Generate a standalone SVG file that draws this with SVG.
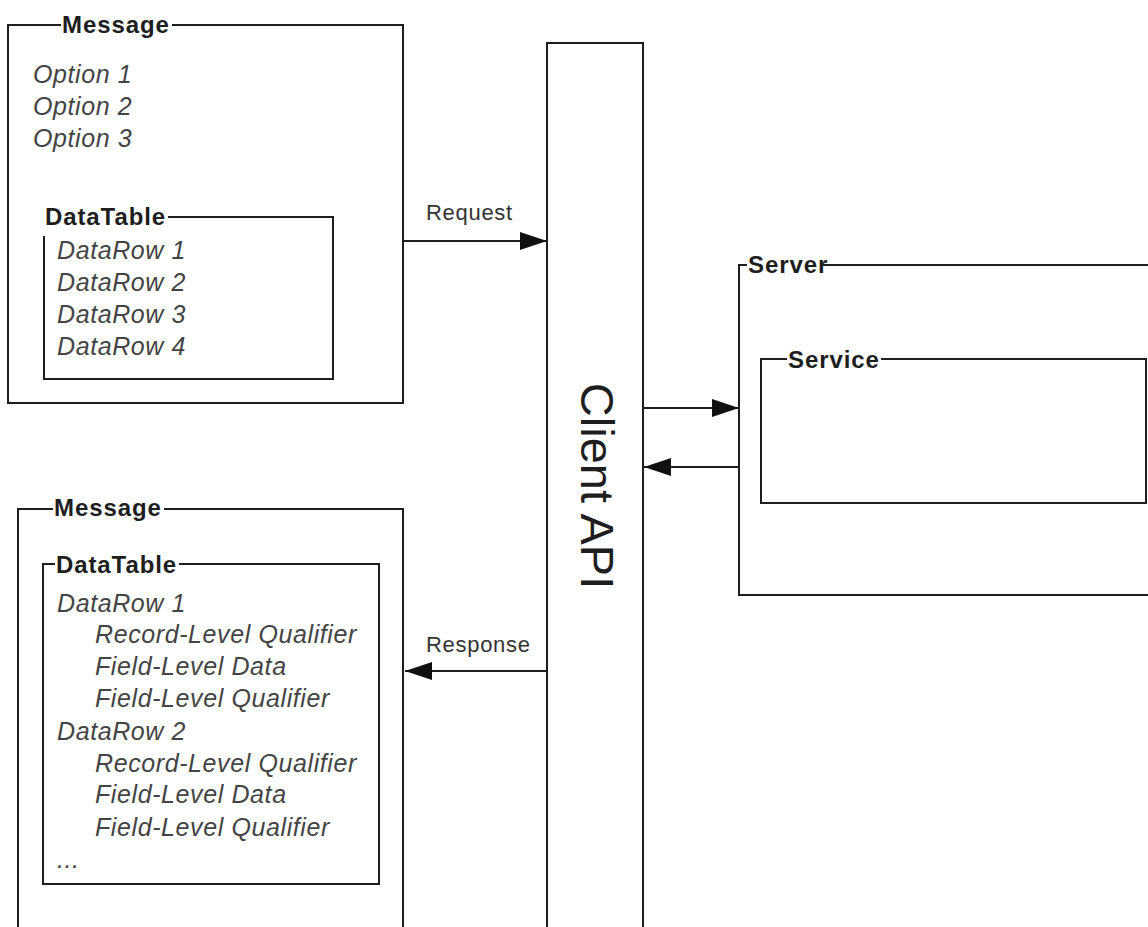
<svg xmlns="http://www.w3.org/2000/svg" width="1148" height="927" viewBox="0 0 1148 927">
<defs>
<style>
.frame{fill:none;stroke:#1e1e1e;stroke-width:2}
.conn{fill:none;stroke:#1e1e1e;stroke-width:2}
.title{font-family:"Liberation Sans",Arial,sans-serif;font-weight:bold;font-size:24px;letter-spacing:0.9px;fill:#1e1e1e}
.item{font-family:"Liberation Sans",Arial,sans-serif;font-style:italic;font-size:25px;letter-spacing:0.6px;fill:#444}
.label{font-family:"Liberation Sans",Arial,sans-serif;font-size:22px;letter-spacing:0.7px;fill:#333}
.big{font-family:"Liberation Sans",Arial,sans-serif;font-size:47px;fill:#1e1e1e}
</style>
<marker id="arr" markerUnits="userSpaceOnUse" markerWidth="27" markerHeight="18" refX="27" refY="9" orient="auto">
<path d="M0,0 L27,9 L0,18 z" fill="#111"/>
</marker>
</defs>
<rect width="1148" height="927" fill="#fff"/>

<g id="message-request">
<path class="frame" d="M61,25 H8 V403 H403 V25 H172"/>
<text class="title" x="62" y="33">Message</text>
<text class="item" x="33" y="83">Option 1</text>
<text class="item" x="33" y="115">Option 2</text>
<text class="item" x="33" y="147">Option 3</text>
</g>

<g id="datatable-request">
<path class="frame" d="M44,236 V379 H333 V217 H168"/>
<text class="title" x="45" y="225">DataTable</text>
<text class="item" x="57" y="259">DataRow 1</text>
<text class="item" x="57" y="291">DataRow 2</text>
<text class="item" x="57" y="323">DataRow 3</text>
<text class="item" x="57" y="355">DataRow 4</text>
</g>

<g id="client-api">
<path class="frame" d="M547,927 V43 H643 V927"/>
<text class="big" transform="translate(581,486) rotate(90)" text-anchor="middle">Client API</text>
</g>

<g id="server">
<path class="frame" d="M747,265 H739 V595 H1150"/>
<path class="frame" d="M822,265 H1150"/>
<text class="title" x="748" y="273">Server</text>
</g>

<g id="service">
<path class="frame" d="M787,359 H761 V503 H1146 V359 H881"/>
<text class="title" x="788" y="368">Service</text>
</g>

<g id="message-response">
<path class="frame" d="M53,509 H18 V927"/>
<path class="frame" d="M164,509 H403 V927"/>
<text class="title" x="54" y="516">Message</text>
</g>

<g id="datatable-response">
<path class="frame" d="M55,564 H43 V884 H379 V564 H179"/>
<text class="title" x="56" y="573">DataTable</text>
<text class="item" x="57" y="612">DataRow 1</text>
<text class="item" x="95" y="643">Record-Level Qualifier</text>
<text class="item" x="95" y="675">Field-Level Data</text>
<text class="item" x="95" y="707">Field-Level Qualifier</text>
<text class="item" x="57" y="740">DataRow 2</text>
<text class="item" x="95" y="772">Record-Level Qualifier</text>
<text class="item" x="95" y="803">Field-Level Data</text>
<text class="item" x="95" y="836">Field-Level Qualifier</text>
<text class="item" x="57" y="868">...</text>
</g>

<g id="connectors">
<line class="conn" x1="403" y1="241" x2="547" y2="241" marker-end="url(#arr)"/>
<text class="label" x="426" y="220">Request</text>
<line class="conn" x1="643" y1="408" x2="739" y2="408" marker-end="url(#arr)"/>
<line class="conn" x1="739" y1="467" x2="644" y2="467" marker-end="url(#arr)"/>
<line class="conn" x1="547" y1="671" x2="405" y2="671" marker-end="url(#arr)"/>
<text class="label" x="426" y="652">Response</text>
</g>
</svg>
